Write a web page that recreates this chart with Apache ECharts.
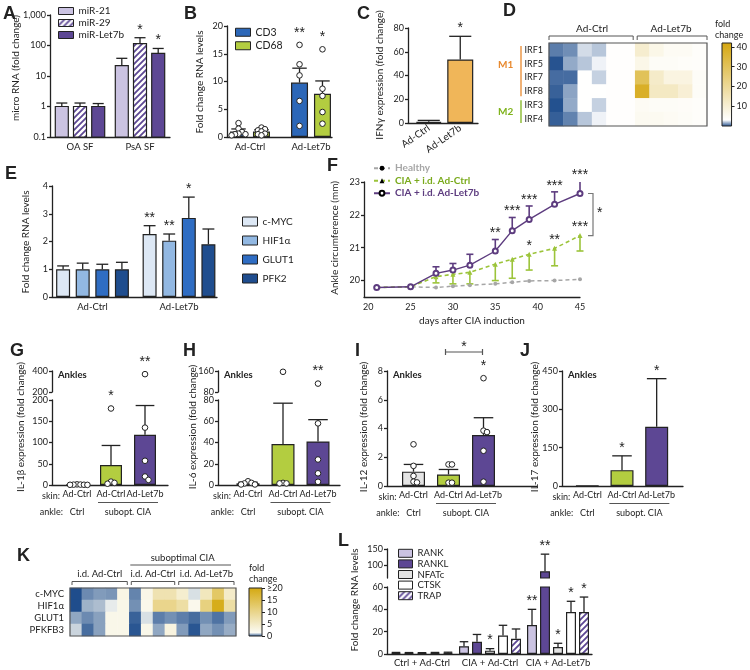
<!DOCTYPE html>
<html><head><meta charset="utf-8">
<script src="https://cdn.jsdelivr.net/npm/echarts@6/dist/echarts.min.js"></script>
<style>html,body{margin:0;padding:0;background:#fff;}#chart{width:750px;height:670px;}</style>
</head><body><div id="chart"></div>
<script>
// ================= DATA =================
// Panel A
const aCats = ['OA SF', 'PsA SF'];
const aMiR21 = [1, 22];
const aMiR21Err = [1.3, 38];
const aMiR29 = [1, 115];
const aMiR29Err = [1.3, 180];
const aMiRLet7b = [1, 55];
const aMiRLet7bErr = [1.25, 80];
const aStarsMiR29 = ['', '*'];
const aStarsMiRLet7b = ['', '*'];
// Panel B
const bCats = ['Ad-Ctrl', 'Ad-Let7b'];
const bCD3 = [1.0, 9.8];
const bCD3Err = [1.45, 12.4];
const bCD68 = [1.0, 7.8];
const bCD68Err = [1.3, 10.1];
const bCD3Dots = [[2.5, 1.5, 0.9, 0.6, 0.5, 0.5, 0.3], [16.6, 13.1, 11.1, 6.5, 2.0]];
const bCD68Dots = [[1.7, 1.4, 1.2, 1.0, 0.6, 0.5, 0.3], [15.8, 8.7, 7.4, 4.5, 2.4]];
const bStarsCD3 = ['', '**'];
const bStarsCD68 = ['', '*'];
// Panel C
const cCats = ['Ad-Ctrl', 'Ad-Let7b'];
const cIFNg = [1.0, 53.5];
const cIFNgErr = [2.2, 73];
const cStars = ['', '*'];
// Panel D (heatmap, fold change)
const dRows = ['IRF1', 'IRF5', 'IRF7', 'IRF8', 'IRF3', 'IRF4'];
const dCols = ['Ad-Ctrl 1', 'Ad-Ctrl 2', 'Ad-Ctrl 3', 'Ad-Ctrl 4', 'Ad-Ctrl 5', 'Ad-Ctrl 6',
  'Ad-Let7b 1', 'Ad-Let7b 2', 'Ad-Let7b 3', 'Ad-Let7b 4', 'Ad-Let7b 5'];
const dIRF1 = [0.9, 1.2, 2.6, 2.2, 3.6, 3.6, 11, 7, 5, 5, 4];
const dIRF5 = [0.15, 1.7, 2.2, 3.0, 3.6, 3.6, 7, 4.5, 4.5, 4.2, 4];
const dIRF7 = [0.6, 0.6, 3.4, 2.4, 3.6, 3.6, 30, 12, 8, 8, 4.5];
const dIRF8 = [0.4, 1.6, 3.4, 3.4, 3.6, 3.6, 38, 13, 13, 10, 4.5];
const dIRF3 = [0.1, 1.7, 3.4, 2.4, 3.6, 3.6, 5, 4.6, 4.5, 4.4, 4];
const dIRF4 = [0.35, 1.0, 2.2, 3.0, 3.6, 3.6, 5.5, 5.5, 5, 4.5, 4];
const dScaleTicks = [10, 20, 30, 40];
// Panel E
const eCats = ['Ad-Ctrl', 'Ad-Let7b'];
const eMYC = [1, 2.27], eMYCErr = [1.12, 2.57];
const eHIF = [1, 2.03], eHIFErr = [1.22, 2.27];
const eGLUT = [1, 2.85], eGLUTErr = [1.18, 3.6];
const ePFK = [1, 1.9], ePFKErr = [1.25, 2.45];
const eStarsMYC = ['', '**'], eStarsHIF = ['', '**'], eStarsGLUT = ['', '*'];
// Panel F
const fDays = [21, 25, 28, 30, 32, 35, 37, 39, 42, 45];
const fHealthy = [19.79, 19.81, 19.79, 19.83, 19.86, 19.9, 19.95, 19.99, 20.0, 20.04];
const fCtrl = [19.79, 19.81, 20.12, 20.19, 20.25, 20.5, 20.65, 20.8, 20.98, 21.37];
const fCtrlErrLow = [null, null, 19.93, 19.9, 19.9, 20.0, 20.07, 20.32, 20.45, 20.9];
const fLet7b = [19.79, 19.81, 20.22, 20.32, 20.47, 20.9, 21.52, 21.86, 22.32, 22.65];
const fLet7bErrHigh = [null, null, 20.42, 20.52, 20.8, 21.25, 21.92, 22.27, 22.7, 23.04];
const fStarsLet7b = ['', '', '', '', '', '**', '***', '***', '***', '***'];
const fStarsCtrl = ['', '', '', '', '', '', '', '*', '**', '***'];
const fXTicks = [20, 25, 30, 35, 40, 45];
const fYTicks = [20, 21, 22, 23];
// Panels G-J
const ijCats = ['Ad-Ctrl', 'Ad-Ctrl', 'Ad-Let7b'];
const gIL1b = [1, 47, 118], gIL1bErr = [1.3, 93, 187];
const gDots = [[1.5, 1, 0.8, 0.6, 0.5, 0.3], [180, 8, 5, 3], [370, 135, 57, 20, 12]];
const gStars = ['', '*', '**'];
const hIL6 = [1.6, 38.5, 41], hIL6Err = [2.6, 77, 61.5];
const hDots = [[3.5, 2, 1.5, 0.5, 0.5], [157, 2, 1.5, 1.5], [112, 58, 24, 11, 3]];
const hStars = ['', '', '**'];
const iIL12 = [1.0, 0.8, 3.55], iIL12Err = [1.5, 1.15, 4.75];
const iDots = [[2.9, 1.4, 0.7, 0.3, 0.25], [1.5, 1.5, 0.23, 0.23], [7.5, 3.85, 3.75, 2.45, 0.3]];
const iStars = ['', '', '*'];
const jIL17 = [1, 62, 232], jIL17Err = [1, 118, 420];
const jStars = ['', '*', '*'];
// Panel K (heatmap)
const kRows = ['c-MYC', 'HIF1α', 'GLUT1', 'PFKFB3'];
const kCols = ['i.d. Ad-Ctrl 1', 'i.d. Ad-Ctrl 2', 'i.d. Ad-Ctrl 3', 'i.d. Ad-Ctrl 4', 'i.d. Ad-Ctrl 5',
  'CIA Ad-Ctrl 1', 'CIA Ad-Ctrl 2', 'CIA Ad-Ctrl 3', 'CIA Ad-Ctrl 4',
  'CIA Ad-Let7b 1', 'CIA Ad-Let7b 2', 'CIA Ad-Let7b 3', 'CIA Ad-Let7b 4', 'CIA Ad-Let7b 5'];
const kMYC = [0.02, 0.55, 0.7, 0.65, 2.8, 0.5, 2.6, 7, 7, 4.5, 1.3, 6, 13, 5];
const kHIF = [0.02, 0.9, 1.0, 1.4, 2.5, 0.6, 2.3, 10, 10, 8, 2.2, 11, 19, 8];
const kGLUT = [0.8, 0.55, 0.75, 2.4, 2.4, 0.2, 1.3, 0.45, 0.6, 0.45, 0.3, 0.6, 0.35, 0.7];
const kPFK = [1.2, 0.3, 0.75, 2.4, 2.4, 0.1, 2.4, 0.8, 3.2, 0.7, 0.1, 0.8, 0.6, 0.85];
const kScaleTicks = [0, 5, 10, 15, 20];
// Panel L
const lCats = ['Ctrl + Ad-Ctrl', 'CIA + Ad-Ctrl', 'CIA + Ad-Let7b'];
const lRANK = [1, 7, 26], lRANKErr = [1.4, 11, 40];
const lRANKL = [1, 11, 81], lRANKLErr = [1.3, 17.5, 134];
const lNFATc = [1, 3, 6.3], lNFATcErr = [1.2, 4.8, 9.6];
const lCTSK = [1, 16.5, 37.6], lCTSKErr = [1.4, 25.7, 47.2];
const lTRAP = [1, 13.7, 37.6], lTRAPErr = [1.6, 22.4, 51];
const lStarsRANK = ['', '', '**'], lStarsRANKL = ['', '', '**'], lStarsNFATc = ['', '*', '*'];
const lStarsCTSK = ['', '', '*'], lStarsTRAP = ['', '', '*'];
const lUpperTicks = [100, 150];

// ================= STYLE =================
const FONT = 'Lato, "Open Sans", sans-serif';
const STARF = '"Liberation Sans", Arial, sans-serif';
const INK = '#222';
const LW = 1.3;
const TFS = 9;      // tick label size
const CFS = 9.5;    // category label size
const AXL = {color: INK, width: LW};
const LAV = '#cbc3e2', PUR = '#5d4794', GRN = '#b3cd40', ORG = '#f0b659', BLU = '#2c67b8', GRY = '#e4e4e4';
const E1 = '#dde8f5', E2 = '#92b8e2', E3 = '#2f6dc3', E4 = '#1f4d8e';
const F_GREY = '#a6a6a6', F_GREEN = '#9cc43a', F_PUR = '#5d3c7f';

function stripes(color) {
  const c = document.createElement('canvas'); c.width = 6; c.height = 6;
  const x = c.getContext('2d');
  x.fillStyle = '#fff'; x.fillRect(0, 0, 6, 6);
  x.strokeStyle = color; x.lineWidth = 1.8;
  x.beginPath(); x.moveTo(-1, 7); x.lineTo(7, -1); x.moveTo(-1, 1); x.lineTo(1, -1); x.moveTo(5, 7); x.lineTo(7, 5); x.stroke();
  return {image: c, repeat: 'repeat'};
}
const STRIPE = stripes(PUR);

function ramp(n, blue, white, gold) {
  const h = c => [1, 3, 5].map(i => parseInt(c.substr(i, 2), 16));
  const W = h(white), G = h(gold);
  const out = [blue, white];
  for (let i = 1; i <= n - 2; i++) {
    const t = i / (n - 2);
    out.push('rgb(' + W.map((w, j) => Math.round(w + (G[j] - w) * t)).join(',') + ')');
  }
  return out;
}

// ================= BUILDERS =================
const opt = {animation: false, backgroundColor: '#fff', textStyle: {fontFamily: FONT, color: INK},
  grid: [], xAxis: [], yAxis: [], series: [], graphic: [], legend: [], visualMap: []};

function addGrid(rect, xa, ya) {
  opt.grid.push(Object.assign({show: false}, rect));
  const gi = opt.grid.length - 1;
  opt.xAxis.push(Object.assign({gridIndex: gi}, xa));
  opt.yAxis.push(Object.assign({gridIndex: gi}, ya));
  return {x: opt.xAxis.length - 1, y: opt.yAxis.length - 1};
}
function yAxisCfg(seg, show) {
  const c = {type: seg.log ? 'log' : 'value', logBase: 10, min: seg.min, max: seg.max, show: show,
    axisLine: {show: true, lineStyle: AXL},
    axisTick: {show: true, length: 3, lineStyle: AXL},
    axisLabel: {fontSize: TFS, color: INK, margin: 4, fontFamily: FONT},
    splitLine: {show: false}};
  if (seg.interval) c.interval = seg.interval;
  if (seg.ticks) { c.axisLabel.customValues = seg.ticks; c.axisTick.customValues = seg.ticks; }
  return c;
}
function segOf(segs, v) {
  for (let i = 0; i < segs.length; i++) if (v >= segs[i].min && v <= segs[i].max) return i;
  return segs.length - 1;
}
function errRender(off, cap, color, lw) {
  return (params, api) => {
    const k = api.value(0), v = api.value(1), e = api.value(2);
    if (e == null || isNaN(e) || e === v) return null;
    const cs = params.coordSys;
    const x = api.coord([k, v])[0] + off;
    const y1 = api.coord([k, v])[1], y2 = api.coord([k, e])[1];
    const top = cs.y, bot = cs.y + cs.height;
    const ya = Math.max(Math.min(y1, y2), top), yb = Math.min(Math.max(y1, y2), bot);
    if (ya >= yb) return null;
    const st = {stroke: color || INK, lineWidth: lw || LW};
    const ch = [{type: 'line', shape: {x1: x, y1: ya, x2: x, y2: yb}, style: st}];
    if (y2 >= top - 0.5 && y2 <= bot + 0.5) ch.push({type: 'line', shape: {x1: x - cap / 2, y1: y2, x2: x + cap / 2, y2: y2}, style: st});
    return {type: 'group', children: ch};
  };
}
function logBarRender(off, w, seg, colorAt) {
  return (params, api) => {
    const k = api.value(0), v = api.value(1);
    const p = api.coord([k, v]), b = api.coord([k, seg.min]);
    return {type: 'rect', shape: {x: p[0] + off - w / 2, y: p[1], width: w, height: b[1] - p[1]},
      style: {fill: colorAt(k), stroke: INK, lineWidth: 1.2}};
  };
}
function dotsRender(dots, off, seg) {
  return (params, api) => {
    const k = params.dataIndex, arr = dots[k] || [];
    const cx = api.coord([k, seg.min])[0] + off;
    const r = 2.8, d = 2 * r, placed = [], ch = [];
    arr.forEach(v => {
      if (v < seg.min || v > seg.max) return;
      const y = api.coord([k, v])[1];
      let dx = 0;
      for (let t = 0; t < 40; t++) {
        const c = t === 0 ? 0 : (t % 2 ? 1 : -1) * Math.ceil(t / 2) * d * 0.62;
        if (placed.every(p => Math.hypot(p[0] - c, p[1] - y) >= d * 0.62)) { dx = c; break; }
      }
      placed.push([dx, y]);
      ch.push({type: 'circle', shape: {cx: cx + dx, cy: y, r: r}, style: {fill: '#fff', stroke: INK, lineWidth: 1}});
    });
    return {type: 'group', children: ch};
  };
}
function starRender(s, off, segs, si) {
  return (params, api) => {
    const k = params.dataIndex, txt = s.stars[k];
    if (!txt) return null;
    const e = s.errs ? s.errs[k] : s.values[k];
    const dl = (s.dots && s.dots[k]) || [];
    const dm = dl.length ? Math.max.apply(null, dl) : -Infinity;
    const top = Math.max(e, dm);
    if (segOf(segs, top) !== si) return null;
    const p = api.coord([k, top]);
    const y = p[1] - (dm > e ? 4 : 0) - 1;
    return {type: 'text', x: p[0] + off, y: y,
      style: {text: txt, textAlign: 'center', textVerticalAlign: 'bottom', fontSize: 14, fontFamily: STARF, fill: INK}};
  };
}
function barPanel(P) {
  const n = P.series.length, w = P.bw, g = P.gap || 0;
  const offs = P.series.map((s, i) => (i - (n - 1) / 2) * w * (1 + g));
  const out = [];
  P.segs.forEach((seg, si) => {
    const bottom = si === 0;
    addGrid({left: P.fl, top: seg.top, width: P.fw, height: seg.h},
      {type: 'value', min: 0, max: 1, axisLine: {show: bottom, onZero: false, lineStyle: AXL}, axisTick: {show: false}, axisLabel: {show: false}, splitLine: {show: false}},
      yAxisCfg(seg, true));
    const ids = addGrid({left: P.dl, top: seg.top, width: P.dw, height: seg.h},
      {type: 'category', data: P.cats, axisLine: {show: false}, axisTick: {show: false}, splitLine: {show: false},
        axisLabel: Object.assign({show: bottom, fontSize: CFS, color: INK, margin: 5, interval: 0, fontFamily: FONT}, P.xLabel || {})},
      yAxisCfg(seg, false));
    out.push(ids);
    const ax = {xAxisIndex: ids.x, yAxisIndex: ids.y, silent: true};
    P.series.forEach((s, i) => {
      const colorAt = k => Array.isArray(s.color) ? s.color[k] : s.color;
      if (seg.log) {
        opt.series.push(Object.assign({type: 'custom', name: s.name, clip: true, itemStyle: {color: colorAt(0)}, z: 2,
          data: s.values.map((v, k) => [k, v]), renderItem: logBarRender(offs[i], w, seg, colorAt)}, ax));
      } else {
        opt.series.push(Object.assign({type: 'bar', name: s.name, barWidth: w, barGap: (g * 100) + '%', z: 2,
          data: s.values.map((v, k) => ({value: v, itemStyle: {color: colorAt(k)}})),
          itemStyle: {color: colorAt(0), borderColor: INK, borderWidth: 1.2}}, ax));
      }
      if (s.errs) opt.series.push(Object.assign({type: 'custom', z: 3, data: s.values.map((v, k) => [k, v, s.errs[k]]),
        renderItem: errRender(offs[i], w * 0.85)}, ax));
      if (s.dots) opt.series.push(Object.assign({type: 'custom', z: 4, data: s.values.map((v, k) => [k, v]),
        renderItem: dotsRender(s.dots, offs[i], seg)}, ax));
      if (s.stars) opt.series.push(Object.assign({type: 'custom', z: 5, data: s.values.map((v, k) => [k, v]),
        renderItem: starRender(s, offs[i], P.segs, si)}, ax));
    });
  });
  return out;
}
function T(text, x, y, st, extra) {
  opt.graphic.push(Object.assign({type: 'text', x: x, y: y, silent: true,
    style: Object.assign({text: text, fontSize: CFS, fontFamily: FONT, fill: INK, textAlign: 'left', textVerticalAlign: 'middle'}, st || {})}, extra || {}));
}
function YN(text, x, y, fs) { T(text, x, y, {textAlign: 'center', fontSize: fs || 10}, {rotation: Math.PI / 2}); }
function PL(points, color, lw) {
  opt.graphic.push({type: 'polyline', silent: true, shape: {points: points}, style: {stroke: color || INK, lineWidth: lw || 1, fill: null}});
}
function LETTER(t, x, y) { T(t, x, y, {fontSize: 18, fontWeight: 'bold', fontFamily: STARF, textVerticalAlign: 'top'}); }
function LEG(data, left, top, o) {
  opt.legend.push(Object.assign({orient: 'vertical', left: left, top: top, padding: 0, itemWidth: 15, itemHeight: 8, itemGap: 2,
    selectedMode: false, icon: 'rect', itemStyle: {borderColor: INK, borderWidth: 1},
    textStyle: {fontSize: 10, color: INK, fontFamily: FONT, lineHeight: 12}, data: data}, o || {}));
}
function heatPanel(H) {
  const ids = addGrid({left: H.l, top: H.t, width: H.w, height: H.h},
    {type: 'category', data: H.cols, show: false},
    {type: 'category', data: H.rows, inverse: true, axisLine: {show: false}, axisTick: {show: false},
      axisLabel: {fontSize: H.fs || 9.5, color: INK, margin: H.margin || 5, fontFamily: FONT, interval: 0}});
  const data = [];
  H.values.forEach((row, ri) => row.forEach((v, ci) => data.push([ci, ri, v])));
  const si = opt.series.length;
  opt.series.push({type: 'heatmap', xAxisIndex: ids.x, yAxisIndex: ids.y, silent: true, data: data, itemStyle: {borderWidth: 0}});
  opt.series.push({type: 'custom', xAxisIndex: ids.x, yAxisIndex: ids.y, silent: true, z: 5, data: [[0, 0]],
    renderItem: (p) => ({type: 'rect', shape: {x: p.coordSys.x, y: p.coordSys.y, width: p.coordSys.width, height: p.coordSys.height},
      style: {fill: null, stroke: '#555', lineWidth: 1.2}})});
  opt.visualMap.push({type: 'continuous', show: false, seriesIndex: si, min: H.min, max: H.max, inRange: {color: H.colors}});
  const cb = addGrid({left: H.cbl, top: H.t, width: 13, height: H.h},
    {type: 'category', data: ['scale'], show: false},
    {type: 'value', min: H.min, max: H.max, position: 'right', axisLine: {show: false},
      axisTick: {show: true, length: 3, customValues: H.cbTicks, lineStyle: {color: INK}},
      axisLabel: {customValues: H.cbTicks, fontSize: TFS, margin: 5, color: INK, fontFamily: FONT, formatter: H.cbFmt},
      splitLine: {show: false}});
  opt.series.push({type: 'custom', xAxisIndex: cb.x, yAxisIndex: cb.y, silent: true, data: [[0, H.min, H.max]],
    renderItem: (p, api) => {
      const a = api.coord([0, H.min]), b = api.coord([0, H.max]), cs = p.coordSys;
      return {type: 'rect', shape: {x: cs.x, y: b[1], width: cs.width, height: a[1] - b[1]},
        style: {fill: new echarts.graphic.LinearGradient(0, 1, 0, 0, H.colors.map((c, i) => ({offset: i / (H.colors.length - 1), color: c}))),
          stroke: INK, lineWidth: 1}};
    }});
  return ids;
}

// ================= PANEL A =================
barPanel({fl: 50, fw: 120, dl: 50, dw: 120, cats: aCats, bw: 13, gap: 0.4, xLabel: {margin: 5},
  segs: [{top: 15, h: 122, min: 0.1, max: 1000, log: true}],
  series: [
    {name: 'miR-21', values: aMiR21, errs: aMiR21Err, color: LAV},
    {name: 'miR-29', values: aMiR29, errs: aMiR29Err, color: STRIPE, stars: aStarsMiR29},
    {name: 'miR-Let7b', values: aMiRLet7b, errs: aMiRLet7bErr, color: PUR, stars: aStarsMiRLet7b}]});
LEG(['miR-21', 'miR-29', 'miR-Let7b'], 58, 5, {itemHeight: 7, itemGap: 0});
LETTER('A', 3, 5);
YN('micro RNA (fold change)', 16, 68);

// ================= PANEL B =================
barPanel({fl: 227, fw: 105, dl: 219.5, dw: 122, cats: bCats, bw: 17, gap: 0.35,
  segs: [{top: 26, h: 111, min: 0, max: 20, interval: 5}],
  series: [
    {name: 'CD3', values: bCD3, errs: bCD3Err, dots: bCD3Dots, color: BLU, stars: bStarsCD3},
    {name: 'CD68', values: bCD68, errs: bCD68Err, dots: bCD68Dots, color: GRN, stars: bStarsCD68}]});
LEG(['CD3', 'CD68'], 235, 26, {itemGap: 1, textStyle: {fontSize: 10.5, color: INK, fontFamily: FONT, lineHeight: 12.5}});
LETTER('B', 184, 5);
YN('Fold change RNA levels', 200, 82);

// ================= PANEL C =================
barPanel({fl: 408, fw: 70, dl: 413, dw: 63, cats: cCats, bw: 26, gap: 0, xLabel: {rotate: 35, margin: 4, fontSize: 10},
  segs: [{top: 28, h: 95, min: 0, max: 80, interval: 20}],
  series: [{name: 'IFNγ', values: cIFNg, errs: cIFNgErr, color: ORG, stars: cStars}]});
LETTER('C', 357, 5);
YN('IFNγ expression (fold change)', 380, 75);

// ================= PANEL D =================
const D_L = 549, D_T = 43, D_W = 158, D_H = 83;
heatPanel({l: D_L, t: D_T, w: D_W, h: D_H, rows: dRows, cols: dCols, margin: 6, fs: 9,
  values: [dIRF1, dIRF5, dIRF7, dIRF8, dIRF3, dIRF4], min: 0, max: 42,
  colors: ramp(14, '#1c4b8b', '#ffffff', '#d4a60f'), cbl: 722, cbTicks: dScaleTicks});
(function () {
  const cw = D_W / dCols.length, split = D_L + 6 * cw;
  PL([[D_L, 40], [D_L, 36], [split - 2, 36], [split - 2, 40]], '#555');
  PL([[split + 2, 40], [split + 2, 36], [D_L + D_W, 36], [D_L + D_W, 40]], '#555');
  T('Ad-Ctrl', (D_L + split) / 2, 29, {textAlign: 'center', fontSize: 10});
  T('Ad-Let7b', (split + D_L + D_W) / 2, 29, {textAlign: 'center', fontSize: 10});
  const rh = D_H / dRows.length;
  PL([[521, D_T + 3], [521, D_T + 4 * rh - 2]], '#e8892e', 1.3);
  PL([[521, D_T + 4 * rh + 2], [521, D_T + D_H - 3]], '#7fb31c', 1.3);
  T('M1', 498, D_T + 2 * rh - 6, {fill: '#e8892e', fontWeight: 'bold', fontSize: 10});
  T('M2', 498, D_T + 5 * rh, {fill: '#7fb31c', fontWeight: 'bold', fontSize: 10});
  T('fold', 715, 24, {fontSize: 9});
  T('change', 715, 35, {fontSize: 9});
})();
LETTER('D', 503, 2);

// ================= PANEL E =================
barPanel({fl: 52, fw: 165, dl: 49.25, dw: 173, cats: eCats, bw: 14, gap: 0.4,
  segs: [{top: 186, h: 111, min: 0, max: 4, interval: 1}],
  series: [
    {name: 'c-MYC', values: eMYC, errs: eMYCErr, color: E1, stars: eStarsMYC},
    {name: 'HIF1α', values: eHIF, errs: eHIFErr, color: E2, stars: eStarsHIF},
    {name: 'GLUT1', values: eGLUT, errs: eGLUTErr, color: E3, stars: eStarsGLUT},
    {name: 'PFK2', values: ePFK, errs: ePFKErr, color: E4}]});
LEG(['c-MYC', 'HIF1α', 'GLUT1', 'PFK2'], 242, 215, {itemHeight: 9, itemGap: 6, textStyle: {fontSize: 10, color: INK, fontFamily: FONT, lineHeight: 13}});
LETTER('E', 5, 165);
YN('Fold change RNA levels', 26, 242);

// ================= PANEL F =================
const fIds = addGrid({left: 364, top: 182, width: 216, height: 115},
  {type: 'value', min: 19.5, max: 45, axisLine: {onZero: false, lineStyle: AXL}, axisTick: {show: false},
    axisLabel: {customValues: fXTicks, fontSize: TFS, color: INK, margin: 6, fontFamily: FONT}, splitLine: {show: false},
    name: 'days after CIA induction', nameLocation: 'middle', nameGap: 19, nameTextStyle: {fontSize: 10, color: INK, fontFamily: FONT}},
  {type: 'value', min: 19.5, max: 23, axisLine: {lineStyle: AXL}, axisTick: {length: 3, customValues: fYTicks, lineStyle: AXL},
    axisLabel: {customValues: fYTicks, fontSize: TFS, color: INK, margin: 4, fontFamily: FONT}, splitLine: {show: false}});
(function () {
  const ax = {xAxisIndex: fIds.x, yAxisIndex: fIds.y, silent: true};
  const pts = arr => fDays.map((d, i) => [d, arr[i]]);
  const errData = (v, e) => fDays.map((d, i) => [d, v[i], e[i]]);
  opt.series.push(Object.assign({type: 'custom', z: 1, data: errData(fCtrl, fCtrlErrLow), renderItem: errRender(0, 7, F_GREEN, 1.6)}, ax));
  opt.series.push(Object.assign({type: 'custom', z: 1, data: errData(fLet7b, fLet7bErrHigh), renderItem: errRender(0, 7, F_PUR, 1.6)}, ax));
  opt.series.push(Object.assign({type: 'line', name: 'Healthy', data: pts(fHealthy), z: 2, symbol: 'circle', symbolSize: 4,
    lineStyle: {color: F_GREY, width: 1.5, type: [4, 3]}, itemStyle: {color: F_GREY}}, ax));
  opt.series.push(Object.assign({type: 'line', name: 'CIA + i.d. Ad-Ctrl', data: pts(fCtrl), z: 3, symbol: 'triangle', symbolSize: 5,
    lineStyle: {color: F_GREEN, width: 1.6, type: [4, 3]}, itemStyle: {color: F_GREEN}}, ax));
  opt.series.push(Object.assign({type: 'line', name: 'CIA + i.d. Ad-Let7b', data: pts(fLet7b), z: 4, symbol: 'emptyCircle', symbolSize: 5,
    lineStyle: {color: F_PUR, width: 1.4}, itemStyle: {color: F_PUR, borderWidth: 1.1}}, ax));
  const starTxt = (x, y, t) => ({type: 'text', x: x, y: y, style: {text: t, textAlign: 'center', textVerticalAlign: 'bottom', fontSize: 14, fontFamily: STARF, fill: INK}});
  opt.series.push(Object.assign({type: 'custom', z: 5, data: pts(fLet7b), renderItem: (p, api) => {
    const i = p.dataIndex; if (!fStarsLet7b[i]) return null;
    const top = fLet7bErrHigh[i] != null ? fLet7bErrHigh[i] : fLet7b[i];
    const c = api.coord([fDays[i], top]); return starTxt(c[0], c[1] + 1, fStarsLet7b[i]);
  }}, ax));
  opt.series.push(Object.assign({type: 'custom', z: 5, data: pts(fCtrl), renderItem: (p, api) => {
    const i = p.dataIndex; if (!fStarsCtrl[i]) return null;
    const c = api.coord([fDays[i], fCtrl[i]]); return starTxt(c[0], c[1] - 1, fStarsCtrl[i]);
  }}, ax));
  const last = fDays.length - 1;
  opt.series.push(Object.assign({type: 'custom', z: 5, data: [[fDays[last], fLet7b[last], fCtrl[last]]], renderItem: (p, api) => {
    const a = api.coord([api.value(0), api.value(1)]), b = api.coord([api.value(0), api.value(2)]);
    const x = a[0] + 13;
    return {type: 'group', children: [
      {type: 'polyline', shape: {points: [[x - 5, a[1]], [x, a[1]], [x, b[1]], [x - 5, b[1]]]}, style: {stroke: '#777', lineWidth: 1.2, fill: null}},
      {type: 'text', x: x + 4, y: (a[1] + b[1]) / 2 + 6, style: {text: '*', textAlign: 'left', textVerticalAlign: 'bottom', fontSize: 14, fontFamily: STARF, fill: INK}}]};
  }}, ax));
})();
LEG([{name: 'Healthy', textStyle: {color: F_GREY}}, {name: 'CIA + i.d. Ad-Ctrl', textStyle: {color: '#7aaa1c'}},
  {name: 'CIA + i.d. Ad-Let7b', textStyle: {color: F_PUR}}], 373, 162,
  {icon: null, itemStyle: null, itemWidth: 16, itemHeight: 6, itemGap: 0,
    textStyle: {fontSize: 10, fontWeight: 'bold', fontFamily: FONT, lineHeight: 12.5}});
LETTER('F', 327, 157);
YN('Ankle circumference (mm)', 335, 238);

// ================= PANELS G-J =================
function cytoPanel(P, letter, lx, yname, ynx) {
  const ids = barPanel(P);
  const n = P.cats.length, bw = P.dw / n;
  const cx = k => P.dl + bw * (k + 0.5);
  const base = P.segs[0].top + P.segs[0].h;
  T('skin:', cx(0) - 17, base + 11, {textAlign: 'right', fontSize: 9});
  T('ankle:', cx(0) - 14, base + 27, {textAlign: 'right', fontSize: 9});
  T('Ctrl', cx(0), base + 27, {textAlign: 'center', fontSize: 9});
  const mid = (cx(1) + cx(2)) / 2;
  T('subopt. CIA', mid, base + 27, {textAlign: 'center', fontSize: 9});
  PL([[mid - 30, base + 17.5], [mid + 30, base + 17.5]], '#555', 1);
  T('Ankles', P.fl + 6, P.segs[P.segs.length - 1].top + 4, {fontWeight: 'bold', fontSize: 9.5});
  LETTER(letter, lx, 342);
  YN(yname, ynx, 427);
  return ids;
}
const gjCols = [GRY, GRN, PUR];
const gjLabel = {fontSize: 9};
cytoPanel({fl: 52, fw: 116, dl: 60, dw: 102, cats: ijCats, bw: 22, xLabel: gjLabel,
  segs: [{top: 400, h: 85, min: 0, max: 200, interval: 50}, {top: 371, h: 21, min: 200, max: 400, interval: 200}],
  series: [{name: 'IL-1β', values: gIL1b, errs: gIL1bErr, dots: gDots, color: gjCols, stars: gStars}]},
  'G', 10, 'IL-1β expression (fold change)', 21);
cytoPanel({fl: 218, fw: 122, dl: 230.5, dw: 105, cats: ijCats, bw: 23, xLabel: gjLabel,
  segs: [{top: 400, h: 85, min: 0, max: 80, interval: 20}, {top: 371, h: 21, min: 80, max: 160, interval: 80}],
  series: [{name: 'IL-6', values: hIL6, errs: hIL6Err, dots: hDots, color: gjCols, stars: hStars}]},
  'H', 183, 'IL-6 expression (fold change)', 193);
const iIds = cytoPanel({fl: 387, fw: 150, dl: 396, dw: 105, cats: ijCats, bw: 23, xLabel: gjLabel,
  segs: [{top: 371, h: 115, min: 0, max: 8, interval: 2}],
  series: [{name: 'IL-12', values: iIL12, errs: iIL12Err, dots: iDots, color: gjCols, stars: iStars}]},
  'I', 355, 'IL-12 expression (fold change)', 364);
opt.series.push({type: 'custom', xAxisIndex: iIds[0].x, yAxisIndex: iIds[0].y, silent: true, z: 5, data: [[1, 2]],
  renderItem: (p, api) => {
    const x1 = api.coord([api.value(0), 0])[0], x2 = api.coord([api.value(1), 0])[0], y = p.coordSys.y - 19;
    return {type: 'group', children: [
      {type: 'line', shape: {x1: x1 - 3, y1: y, x2: x2 - 1, y2: y}, style: {stroke: '#555', lineWidth: 1.2}},
      {type: 'line', shape: {x1: x1 - 3, y1: y - 3, x2: x1 - 3, y2: y + 3}, style: {stroke: '#555', lineWidth: 1.2}},
      {type: 'line', shape: {x1: x2 - 1, y1: y - 3, x2: x2 - 1, y2: y + 3}, style: {stroke: '#555', lineWidth: 1.2}},
      {type: 'text', x: (x1 + x2) / 2 - 2, y: y + 2, style: {text: '*', textAlign: 'center', textVerticalAlign: 'bottom', fontSize: 14, fontFamily: STARF, fill: INK}}]};
  }});
cytoPanel({fl: 562, fw: 121, dl: 570, dw: 104, cats: ijCats, bw: 23, xLabel: gjLabel,
  segs: [{top: 371, h: 115, min: 0, max: 450, interval: 150}],
  series: [{name: 'IL-17', values: jIL17, errs: jIL17Err, color: gjCols, stars: jStars}]},
  'J', 520, 'IL-17 expression (fold change)', 535);

// ================= PANEL K =================
const K_L = 70, K_T = 588, K_W = 166, K_H = 48;
heatPanel({l: K_L, t: K_T, w: K_W, h: K_H, rows: kRows, cols: kCols, margin: 6, fs: 9.5,
  values: [kMYC, kHIF, kGLUT, kPFK], min: 0, max: 20,
  colors: ramp(14, '#1c4b8b', '#fbfbf4', '#d4a80f'), cbl: 249, cbTicks: kScaleTicks,
  cbFmt: v => (v >= 20 ? '≥20' : String(v))});
(function () {
  const cw = K_W / kCols.length;
  const b1 = K_L + 5 * cw, b2 = K_L + 9 * cw, e = K_L + K_W;
  PL([[K_L + 2, 585], [K_L + 2, 581.5], [b1 - 2, 581.5], [b1 - 2, 585]], '#555');
  PL([[b1 + 2, 585], [b1 + 2, 581.5], [b2 - 2, 581.5], [b2 - 2, 585]], '#555');
  PL([[b2 + 2, 585], [b2 + 2, 581.5], [e - 2, 581.5], [e - 2, 585]], '#555');
  PL([[b1 + 1, 565], [e - 5, 565]], '#555');
  T('suboptimal CIA', (b1 + e) / 2, 558, {textAlign: 'center', fontSize: 9.5});
  T('i.d. Ad-Ctrl', (K_L + b1) / 2, 574, {textAlign: 'center', fontSize: 9.5});
  T('i.d. Ad-Ctrl', (b1 + b2) / 2, 574, {textAlign: 'center', fontSize: 9.5});
  T('i.d. Ad-Let7b', (b2 + e) / 2, 574, {textAlign: 'center', fontSize: 9.5});
  T('fold', 249, 568, {fontSize: 9});
  T('change', 249, 579, {fontSize: 9});
})();
LETTER('K', 17, 547);

// ================= PANEL L =================
barPanel({fl: 387, fw: 205, dl: 388, dw: 204, cats: lCats, bw: 10, gap: 0.3, xLabel: {fontSize: 9.5, margin: 4},
  segs: [{top: 587, h: 67, min: 0, max: 60, interval: 20}, {top: 549, h: 29, min: 60, max: 150, ticks: lUpperTicks}],
  series: [
    {name: 'RANK', values: lRANK, errs: lRANKErr, color: LAV, stars: lStarsRANK},
    {name: 'RANKL', values: lRANKL, errs: lRANKLErr, color: PUR, stars: lStarsRANKL},
    {name: 'NFATc', values: lNFATc, errs: lNFATcErr, color: GRY, stars: lStarsNFATc},
    {name: 'CTSK', values: lCTSK, errs: lCTSKErr, color: '#ffffff', stars: lStarsCTSK},
    {name: 'TRAP', values: lTRAP, errs: lTRAPErr, color: STRIPE, stars: lStarsTRAP}]});
LEG(['RANK', 'RANKL', 'NFATc', 'CTSK', 'TRAP'], 398, 548, {itemWidth: 14, itemHeight: 8, itemGap: 0,
  textStyle: {fontSize: 9.5, color: INK, fontFamily: FONT, lineHeight: 10.6}});
LETTER('L', 338, 532);
YN('Fold change RNA levels', 355, 600);

const chart = echarts.init(document.getElementById('chart'), null, {renderer: 'canvas', width: 750, height: 670});
chart.setOption(opt);
</script>
</body></html>
